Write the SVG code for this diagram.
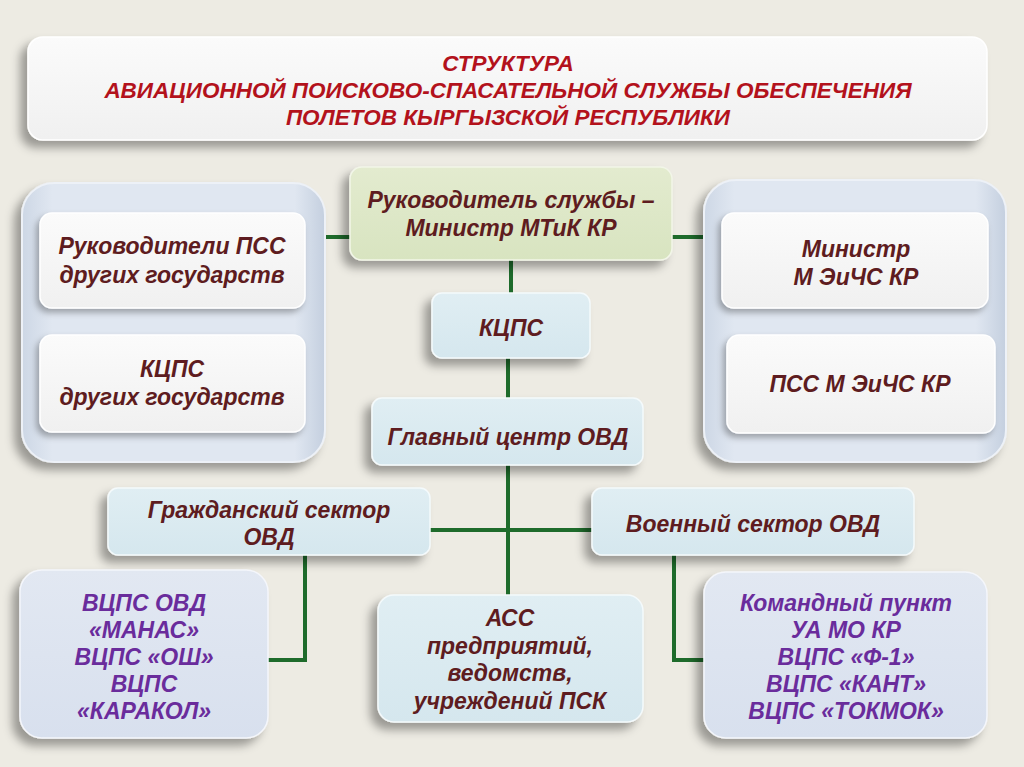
<svg xmlns="http://www.w3.org/2000/svg" width="1024" height="767" viewBox="0 0 1024 767">
<defs>
<filter id="sh" x="-20%" y="-20%" width="140%" height="150%">
<feDropShadow dx="-7" dy="7" stdDeviation="5" flood-color="#000" flood-opacity="0.35"/>
</filter>
<filter id="shs" x="-20%" y="-20%" width="140%" height="150%">
<feDropShadow dx="-3" dy="4" stdDeviation="3" flood-color="#000" flood-opacity="0.3"/>
</filter>
<linearGradient id="gWhite" x1="0" y1="0" x2="0" y2="1">
<stop offset="0" stop-color="#fbfbfb"/><stop offset="1" stop-color="#f0f0f0"/>
</linearGradient>
<linearGradient id="gGreen" x1="0" y1="0" x2="0" y2="1">
<stop offset="0" stop-color="#e3ebcf"/><stop offset="1" stop-color="#d8e4c0"/>
</linearGradient>
<linearGradient id="gBlue" x1="0" y1="0" x2="0" y2="1">
<stop offset="0" stop-color="#e0eef3"/><stop offset="1" stop-color="#d5e7ee"/>
</linearGradient>
<linearGradient id="gLav" x1="0" y1="0" x2="0" y2="1">
<stop offset="0" stop-color="#e2e8f2"/><stop offset="1" stop-color="#d8e0ee"/>
</linearGradient>
<linearGradient id="gGroup" x1="0" y1="0" x2="1" y2="0">
<stop offset="0" stop-color="#cdd7e5"/><stop offset="0.1" stop-color="#e0e7f1"/><stop offset="0.9" stop-color="#e0e7f1"/><stop offset="1" stop-color="#c4cfdf"/>
</linearGradient>
</defs>
<style>
.t{font-family:"Liberation Sans",Arial,sans-serif;font-weight:bold;font-style:italic;text-anchor:middle}
.title{fill:#b3121c;font-size:22.5px}
.m{fill:#5e1c20;font-size:23px}
.p{fill:#6a2c9c;font-size:23px}
.wbox{fill:url(#gWhite);stroke:#ffffff;stroke-width:1.5}
.gbox{fill:url(#gGreen);stroke:#f2f6e8;stroke-width:1.5}
.bbox{fill:url(#gBlue);stroke:#f4fafc;stroke-width:1.5}
.lbox{fill:url(#gLav);stroke:#f4f6fb;stroke-width:1.5}
.grp{fill:url(#gGroup);stroke:#edf1f7;stroke-width:2}
.c{fill:none;stroke:#1e6b2b;stroke-width:4}
</style>
<rect x="0" y="0" width="1024" height="767" fill="#edebe3"/>

<g id="title">
<rect x="28" y="37" width="959" height="103" rx="15" class="wbox" filter="url(#sh)"/>
<text class="t title" x="508" y="71">СТРУКТУРА</text>
<text class="t title" x="508" y="98">АВИАЦИОННОЙ ПОИСКОВО-СПАСАТЕЛЬНОЙ СЛУЖБЫ ОБЕСПЕЧЕНИЯ</text>
<text class="t title" x="508" y="125">ПОЛЕТОВ КЫРГЫЗСКОЙ РЕСПУБЛИКИ</text>
</g>

<g id="connectors">
<line class="c" x1="325" y1="237" x2="352" y2="237"/>
<line class="c" x1="670" y1="237" x2="704" y2="237"/>
<line class="c" x1="511" y1="260" x2="511" y2="295"/>
<line class="c" x1="508" y1="358" x2="508" y2="400"/>
<line class="c" x1="508" y1="465" x2="508" y2="596"/>
<line class="c" x1="430" y1="530" x2="592" y2="530"/>
<polyline class="c" points="305,555 305,660 268,660"/>
<polyline class="c" points="674,555 674,660 704,660"/>
</g>

<g id="group-left">
<rect x="22" y="183" width="303" height="279" rx="32" class="grp" filter="url(#sh)"/>
</g>
<g id="node-rukovoditeli-pss">
<rect x="40" y="213" width="265" height="95" rx="12" class="wbox" filter="url(#shs)"/>
<text class="t m" x="172" y="254">Руководители ПСС</text>
<text class="t m" x="172" y="283">других государств</text>
</g>
<g id="node-kcps-other">
<rect x="40" y="335" width="265" height="97" rx="12" class="wbox" filter="url(#shs)"/>
<text class="t m" x="172" y="377">КЦПС</text>
<text class="t m" x="172" y="405">других государств</text>
</g>

<g id="group-right">
<rect x="704" y="180" width="302" height="282" rx="32" class="grp" filter="url(#sh)"/>
</g>
<g id="node-ministr-mchs">
<rect x="722" y="213" width="266" height="95" rx="12" class="wbox" filter="url(#shs)"/>
<text class="t m" x="856" y="257">Министр</text>
<text class="t m" x="856" y="285">М ЭиЧС КР</text>
</g>
<g id="node-pss-mchs">
<rect x="727" y="335" width="268" height="98" rx="12" class="wbox" filter="url(#shs)"/>
<text class="t m" x="860" y="392">ПСС М ЭиЧС КР</text>
</g>

<g id="node-head">
<rect x="350" y="167" width="322" height="93" rx="12" class="gbox" filter="url(#sh)"/>
<text class="t m" x="511" y="208">Руководитель службы –</text>
<text class="t m" x="511" y="236">Министр МТиК КР</text>
</g>

<g id="node-kcps">
<rect x="432" y="293" width="158" height="65" rx="10" class="bbox" filter="url(#sh)"/>
<text class="t m" x="511" y="336">КЦПС</text>
</g>

<g id="node-main-center">
<rect x="372" y="398" width="271" height="67" rx="10" class="bbox" filter="url(#sh)"/>
<text class="t m" x="508" y="445">Главный центр ОВД</text>
</g>

<g id="node-civil">
<rect x="108" y="488" width="322" height="67" rx="10" class="bbox" filter="url(#sh)"/>
<text class="t m" x="269" y="518">Гражданский сектор</text>
<text class="t m" x="269" y="545">ОВД</text>
</g>

<g id="node-military">
<rect x="592" y="488" width="322" height="67" rx="10" class="bbox" filter="url(#sh)"/>
<text class="t m" x="753" y="532">Военный сектор ОВД</text>
</g>

<g id="node-vcps-civil">
<rect x="20" y="570" width="248" height="168" rx="22" class="lbox" filter="url(#sh)"/>
<text class="t p" x="144" y="611">ВЦПС ОВД</text>
<text class="t p" x="144" y="638">«МАНАС»</text>
<text class="t p" x="144" y="665">ВЦПС «ОШ»</text>
<text class="t p" x="144" y="692">ВЦПС</text>
<text class="t p" x="144" y="719">«КАРАКОЛ»</text>
</g>

<g id="node-ass">
<rect x="378" y="595" width="265" height="127" rx="16" class="bbox" filter="url(#sh)"/>
<text class="t m" x="510" y="626">АСС</text>
<text class="t m" x="510" y="654">предприятий,</text>
<text class="t m" x="510" y="681">ведомств,</text>
<text class="t m" x="510" y="709">учреждений ПСК</text>
</g>

<g id="node-command">
<rect x="704" y="572" width="283" height="166" rx="22" class="lbox" filter="url(#sh)"/>
<text class="t p" x="846" y="611">Командный пункт</text>
<text class="t p" x="846" y="638">УА МО КР</text>
<text class="t p" x="846" y="665">ВЦПС «Ф-1»</text>
<text class="t p" x="846" y="692">ВЦПС «КАНТ»</text>
<text class="t p" x="846" y="719">ВЦПС «ТОКМОК»</text>
</g>
</svg>
